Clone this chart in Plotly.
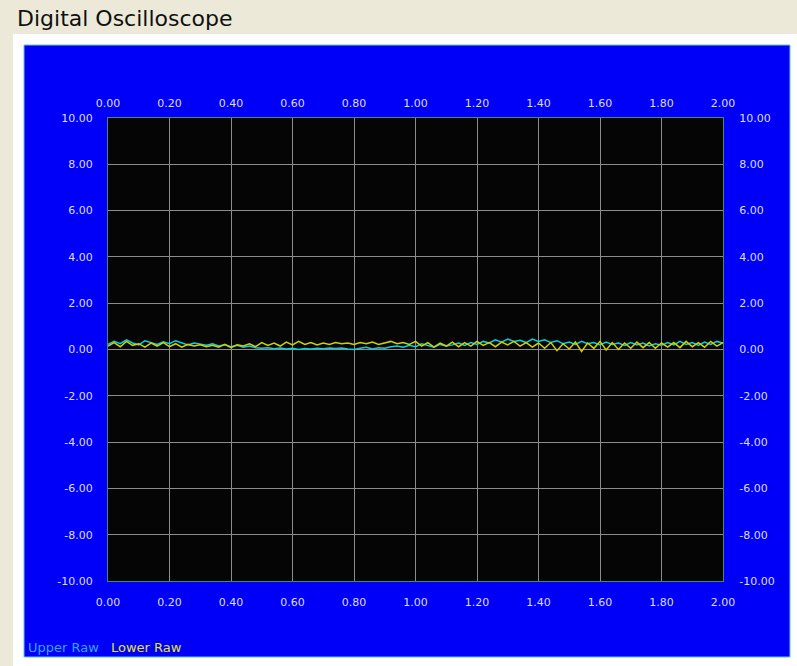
import plotly.graph_objects as go

# ---- data ----
x_values = [round(i * 0.02, 2) for i in range(101)]

upper_raw = [0.22, 0.35, 0.25, 0.42, 0.28, 0.20, 0.38, 0.30, 0.22, 0.33,
             0.25, 0.38, 0.30, 0.20, 0.28, 0.22, 0.18, 0.25, 0.15, 0.20,
             0.12, 0.18, 0.10, 0.15, 0.08, 0.05, 0.08, 0.03, 0.06, 0.02,
             0.05, 0.00, 0.04, 0.02, 0.05, 0.03, 0.06, 0.04, 0.06, 0.02,
             0.00, 0.05, 0.10, 0.02, 0.08, 0.05, 0.12, 0.15, 0.10, 0.18,
             0.12, 0.25, 0.18, 0.10, 0.22, 0.15, 0.20, 0.28, 0.18, 0.30,
             0.22, 0.35, 0.28, 0.42, 0.32, 0.45, 0.35, 0.40, 0.30, 0.45,
             0.35, 0.42, 0.30, 0.38, 0.25, 0.32, 0.22, 0.35, 0.25, 0.30,
             0.20, 0.32, 0.22, 0.28, 0.18, 0.30, 0.20, 0.28, 0.15, 0.25,
             0.18, 0.30, 0.20, 0.35, 0.22, 0.30, 0.18, 0.32, 0.22, 0.35,
             0.28]

lower_raw = [0.15, 0.30, 0.12, 0.35, 0.18, 0.25, 0.10, 0.28, 0.15, 0.30,
             0.12, 0.25, 0.10, 0.22, 0.15, 0.20, 0.12, 0.18, 0.10, 0.22,
             0.08, 0.20, 0.15, 0.25, 0.12, 0.30, 0.18, 0.28, 0.15, 0.32,
             0.20, 0.35, 0.22, 0.30, 0.20, 0.28, 0.22, 0.30, 0.25, 0.28,
             0.22, 0.30, 0.25, 0.32, 0.22, 0.28, 0.35, 0.25, 0.30, 0.22,
             0.35, 0.15, 0.30, 0.10, 0.28, 0.15, 0.32, 0.12, 0.30, 0.15,
             0.35, 0.18, 0.30, 0.12, 0.32, 0.20, 0.35, 0.15, 0.30, 0.10,
             0.28, 0.05, 0.30, -0.05, 0.25, 0.02, 0.32, -0.08, 0.28, 0.05,
             0.35, -0.02, 0.30, 0.00, 0.28, 0.05, 0.32, 0.08, 0.30, 0.05,
             0.28, 0.10, 0.30, 0.08, 0.35, 0.12, 0.30, 0.10, 0.35, 0.15,
             0.30]

series_names = ["Upper Raw", "Lower Raw"]
series_colors = ["#00D4E0", "#D0D000"]
legend_colors = ["#30A8FF", "#E4E430"]

x_tickvals = [0.0, 0.2, 0.4, 0.6, 0.8, 1.0, 1.2, 1.4, 1.6, 1.8, 2.0]
x_ticktext = ["0.00", "0.20", "0.40", "0.60", "0.80", "1.00",
              "1.20", "1.40", "1.60", "1.80", "2.00"]
y_tickvals = [-10, -8, -6, -4, -2, 0, 2, 4, 6, 8, 10]
y_ticktext = ["-10.00", "-8.00", "-6.00", "-4.00", "-2.00", "0.00",
              "2.00", "4.00", "6.00", "8.00", "10.00"]

x_range = [0, 2]
y_range = [-10, 10]

# ---- geometry (pixels) ----
W, H = 797, 666
L, R, T, B = 108, 723, 118, 581
pw, ph = R - L, B - T


def px(X):
    return (X - L) / pw


def py(Y):
    return (B - Y) / ph


fig = go.Figure()
for name, vals, col in zip(series_names, [upper_raw, lower_raw], series_colors):
    fig.add_trace(go.Scatter(x=x_values, y=vals, mode="lines", name=name,
                             line=dict(color=col, width=1.5), showlegend=False))

tick_font = dict(family="DejaVu Sans", size=11, color="#DCDCFF")
common = dict(tickcolor="rgba(0,0,0,0)", ticks="outside", tickfont=tick_font)
main_axis = dict(showgrid=True, gridcolor="#8C8C8C", gridwidth=1,
                 showline=True, linecolor="#3C8C78", linewidth=1, mirror=True,
                 zeroline=True, zerolinecolor="#8C8C8C", zerolinewidth=1, **common)
sec_axis = dict(showgrid=False, zeroline=False, showline=False, **common)

fig.update_layout(
    width=W, height=H,
    margin=dict(l=L, r=W - R, t=T, b=H - B, pad=0),
    paper_bgcolor="#ECE9D8",
    plot_bgcolor="#050505",
    showlegend=False,
    xaxis=dict(range=x_range, tickmode="array", tickvals=x_tickvals, ticktext=x_ticktext,
               ticklen=11, **main_axis),
    yaxis=dict(range=y_range, tickmode="array", tickvals=y_tickvals, ticktext=y_ticktext,
               ticklen=12, **main_axis),
    xaxis2=dict(range=x_range, tickmode="array", tickvals=x_tickvals, ticktext=x_ticktext,
                overlaying="x", side="top", ticklen=6, **sec_axis),
    yaxis2=dict(range=y_range, tickmode="array", tickvals=y_tickvals, ticktext=y_ticktext,
                overlaying="y", side="right", ticklen=13, **sec_axis),
)

# invisible trace to activate secondary axes
fig.add_trace(go.Scatter(x=[None], y=[None], xaxis="x2", yaxis="y2",
                         showlegend=False, hoverinfo="skip"))

shapes = [
    dict(type="rect", xref="paper", yref="paper", layer="below",
         x0=px(13), x1=px(W + 5), y0=py(H + 5), y1=py(34),
         fillcolor="#FFFFFF", line=dict(width=0)),
    dict(type="rect", xref="paper", yref="paper", layer="below",
         x0=px(24), x1=px(790), y0=py(657), y1=py(45),
         fillcolor="#0000F8", line=dict(color="#5CC8E8", width=1)),
    dict(type="rect", xref="paper", yref="paper", layer="below",
         x0=0, x1=1, y0=0, y1=1,
         fillcolor="#050505", line=dict(width=0)),
]
fig.update_layout(shapes=shapes)

annotations = [
    dict(text="Digital Oscilloscope", xref="paper", yref="paper",
         x=px(15), y=py(19), xanchor="left", yanchor="middle", showarrow=False,
         font=dict(family="DejaVu Sans", size=22, color="#101010")),
    dict(text=series_names[0], xref="paper", yref="paper",
         x=px(26), y=py(647), xanchor="left", yanchor="middle", showarrow=False,
         font=dict(family="DejaVu Sans", size=13, color=legend_colors[0])),
    dict(text=series_names[1], xref="paper", yref="paper",
         x=px(109), y=py(647), xanchor="left", yanchor="middle", showarrow=False,
         font=dict(family="DejaVu Sans", size=13, color=legend_colors[1])),
]
fig.update_layout(annotations=annotations)

fig.write_html(
    "out.html",
    config={"displayModeBar": False},
    post_script="document.body.style.margin='0';document.body.style.background='#ECE9D8';",
)
